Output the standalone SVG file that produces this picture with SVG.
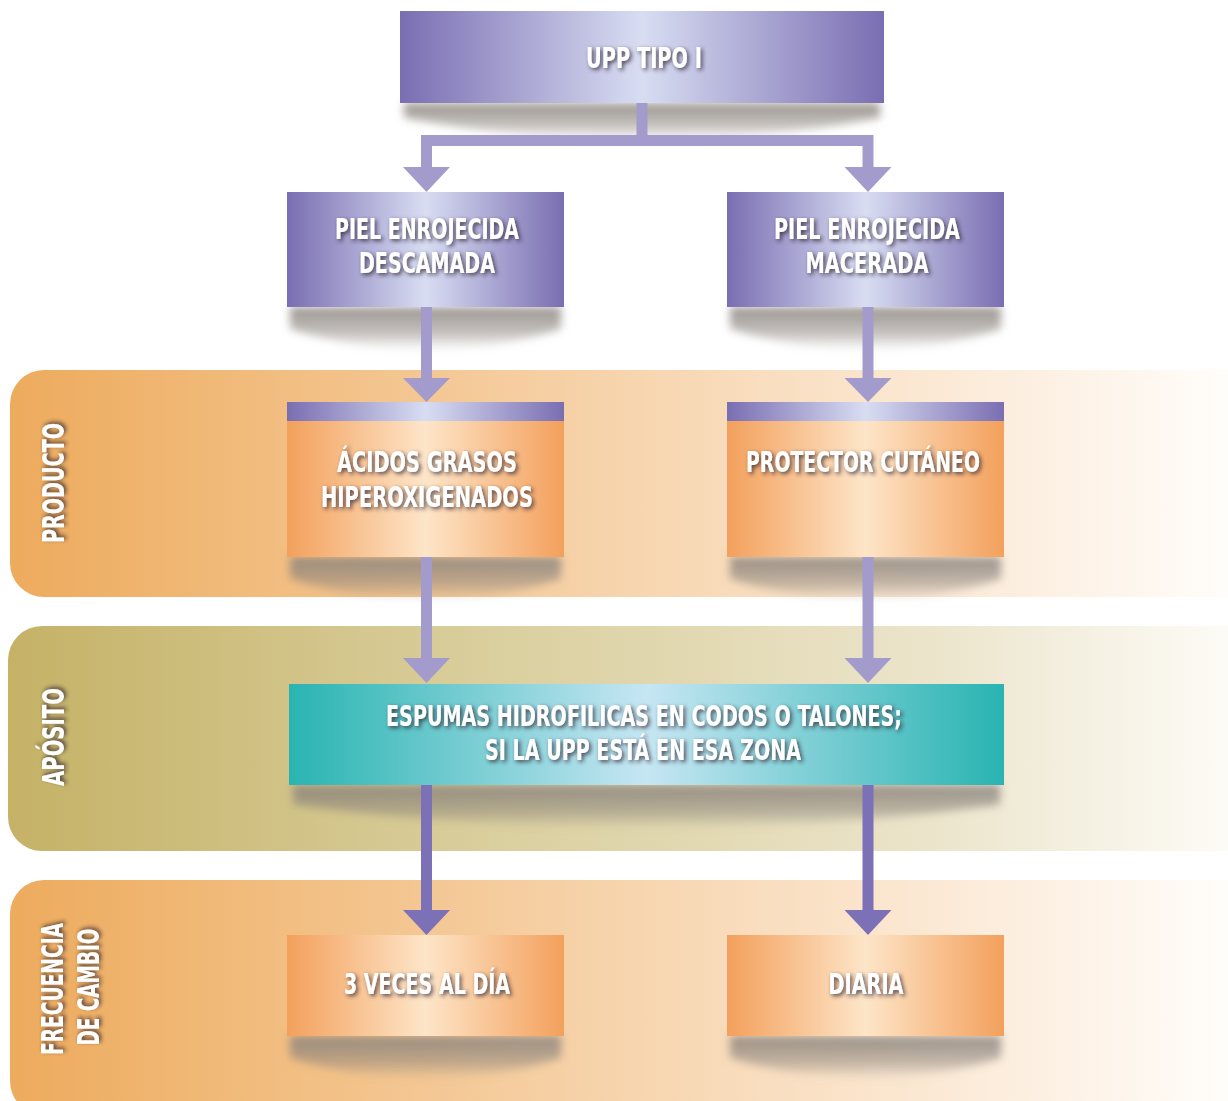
<svg xmlns="http://www.w3.org/2000/svg" width="1228" height="1101" viewBox="0 0 1228 1101">
<defs>
<linearGradient id="gPurple" x1="0" y1="0" x2="1" y2="0">
<stop offset="0" stop-color="#7a6eb2"/><stop offset="0.5" stop-color="#d8ddf2"/><stop offset="1" stop-color="#7a6eb2"/>
</linearGradient>
<linearGradient id="gOrange" x1="0" y1="0" x2="1" y2="0">
<stop offset="0" stop-color="#f3a05c"/><stop offset="0.5" stop-color="#fde5c8"/><stop offset="1" stop-color="#f3a05c"/>
</linearGradient>
<linearGradient id="gTeal" x1="0" y1="0" x2="1" y2="0">
<stop offset="0" stop-color="#29b4b2"/><stop offset="0.5" stop-color="#c6e6f3"/><stop offset="1" stop-color="#29b4b2"/>
</linearGradient>
<linearGradient id="gBandO" gradientUnits="userSpaceOnUse" x1="10" y1="0" x2="1228" y2="0">
<stop offset="0" stop-color="#edab5d"/><stop offset="0.4" stop-color="#f5cc9d"/><stop offset="0.75" stop-color="#fbe8d3"/><stop offset="1" stop-color="#fffdfa"/>
</linearGradient>
<linearGradient id="gBandY" gradientUnits="userSpaceOnUse" x1="8" y1="0" x2="1228" y2="0">
<stop offset="0" stop-color="#c5b267"/><stop offset="0.4" stop-color="#dacf9e"/><stop offset="0.75" stop-color="#ebe4ca"/><stop offset="1" stop-color="#fdfbf6"/>
</linearGradient>
<linearGradient id="gShadow" x1="0" y1="0" x2="0" y2="1">
<stop offset="0" stop-color="#8a837c" stop-opacity="0.85"/><stop offset="0.6" stop-color="#8a837c" stop-opacity="0.5"/><stop offset="1" stop-color="#8a837c" stop-opacity="0"/>
</linearGradient>
<filter id="blur" x="-10%" y="-50%" width="120%" height="200%"><feGaussianBlur stdDeviation="4"/></filter>
<filter id="ts" x="-10%" y="-30%" width="120%" height="160%"><feDropShadow dx="2" dy="2" stdDeviation="2" flood-color="#2a2030" flood-opacity="0.8"/></filter>
<path id="shadowL" d="M3,0 H274 V22 Q138,64 3,22 Z"/>
</defs>
<style>
text{font-family:"Liberation Sans Narrow","DejaVu Sans Condensed","Liberation Sans",sans-serif;font-weight:bold;fill:#ffffff;text-anchor:middle;filter:url(#ts)}
.t{font-size:29px}
.lab{font-size:30px}
.sh{fill:url(#gShadow);filter:url(#blur)}
.c1{fill:#a39bcb}
.c2{fill:#7c71b6}
</style>
<g id="bands">
<rect x="10" y="370" width="1260" height="227" rx="34" fill="url(#gBandO)"/>
<rect x="8" y="626" width="1260" height="225" rx="34" fill="url(#gBandY)"/>
<rect x="10" y="880" width="1260" height="235" rx="34" fill="url(#gBandO)"/>
</g>
<g id="labels">
<text class="lab" transform="translate(64,483) rotate(-90)" textLength="120" lengthAdjust="spacingAndGlyphs">PRODUCTO</text>
<text class="lab" transform="translate(64,737) rotate(-90)" textLength="98" lengthAdjust="spacingAndGlyphs">APÓSITO</text>
<text class="lab" transform="translate(63,989) rotate(-90)" textLength="132" lengthAdjust="spacingAndGlyphs">FRECUENCIA</text>
<text class="lab" transform="translate(99,987) rotate(-90)" textLength="117" lengthAdjust="spacingAndGlyphs">DE CAMBIO</text>
</g>
<g id="shadows">
<path class="sh" d="M404,103 H880 V118 Q642,162 404,118 Z"/>
<use href="#shadowL" class="sh" x="287" y="307"/>
<use href="#shadowL" class="sh" x="727" y="307"/>
<use href="#shadowL" class="sh" x="287" y="557"/>
<use href="#shadowL" class="sh" x="727" y="557"/>
<path class="sh" d="M293,785 H1000 V805 Q646,852 293,805 Z"/>
<use href="#shadowL" class="sh" x="287" y="1036"/>
<use href="#shadowL" class="sh" x="727" y="1036"/>
</g>
<g id="connectors">
<rect class="c1" x="636.5" y="103" width="11" height="38"/>
<rect class="c1" x="421" y="135" width="452" height="11"/>
<rect class="c1" x="421" y="135" width="11" height="33"/>
<polygon class="c1" points="403,167 450,167 426.5,192"/>
<rect class="c1" x="862.5" y="135" width="11" height="33"/>
<polygon class="c1" points="844.5,167 891.5,167 868,192"/>
<rect class="c1" x="421" y="307" width="11" height="72"/>
<polygon class="c1" points="403,378 450,378 426.5,402"/>
<rect class="c1" x="862.5" y="307" width="11" height="72"/>
<polygon class="c1" points="844.5,378 891.5,378 868,402"/>
<rect class="c1" x="421" y="557" width="11" height="102"/>
<polygon class="c1" points="403,658 450,658 426.5,683"/>
<rect class="c1" x="862.5" y="557" width="11" height="102"/>
<polygon class="c1" points="844.5,658 891.5,658 868,683"/>
<rect class="c2" x="421" y="785" width="11" height="126"/>
<polygon class="c2" points="403,910 450,910 426.5,935"/>
<rect class="c2" x="862.5" y="785" width="11" height="126"/>
<polygon class="c2" points="844.5,910 891.5,910 868,935"/>
</g>
<g id="n-upp">
<rect x="400" y="11" width="484" height="92" fill="url(#gPurple)"/>
<text class="t" x="644" y="68" font-size="30" textLength="116" lengthAdjust="spacingAndGlyphs">UPP TIPO I</text>
</g>
<g id="n-descamada">
<rect x="287" y="192" width="277" height="115" fill="url(#gPurple)"/>
<text class="t" x="427" y="239" textLength="184" lengthAdjust="spacingAndGlyphs">PIEL ENROJECIDA</text>
<text class="t" x="427" y="273" textLength="136" lengthAdjust="spacingAndGlyphs">DESCAMADA</text>
</g>
<g id="n-macerada">
<rect x="727" y="192" width="277" height="115" fill="url(#gPurple)"/>
<text class="t" x="867" y="239" textLength="186" lengthAdjust="spacingAndGlyphs">PIEL ENROJECIDA</text>
<text class="t" x="867" y="273" textLength="123" lengthAdjust="spacingAndGlyphs">MACERADA</text>
</g>
<g id="n-acidos">
<rect x="287" y="421" width="277" height="136" fill="url(#gOrange)"/>
<rect x="287" y="402" width="277" height="19" fill="url(#gPurple)"/>
<text class="t" x="427" y="472" textLength="180" lengthAdjust="spacingAndGlyphs">ÁCIDOS GRASOS</text>
<text class="t" x="427" y="507" textLength="212" lengthAdjust="spacingAndGlyphs">HIPEROXIGENADOS</text>
</g>
<g id="n-protector">
<rect x="727" y="421" width="277" height="136" fill="url(#gOrange)"/>
<rect x="727" y="402" width="277" height="19" fill="url(#gPurple)"/>
<text class="t" x="863" y="472" textLength="234" lengthAdjust="spacingAndGlyphs">PROTECTOR CUTÁNEO</text>
</g>
<g id="n-espumas">
<rect x="289" y="684" width="715" height="101" fill="url(#gTeal)"/>
<text class="t" x="644" y="726" textLength="516" lengthAdjust="spacingAndGlyphs">ESPUMAS HIDROFILICAS EN CODOS O TALONES;</text>
<text class="t" x="643" y="760" textLength="316" lengthAdjust="spacingAndGlyphs">SI LA UPP ESTÁ EN ESA ZONA</text>
</g>
<g id="n-3veces">
<rect x="287" y="935" width="277" height="101" fill="url(#gOrange)"/>
<text class="t" x="427" y="994" textLength="166" lengthAdjust="spacingAndGlyphs">3 VECES AL DÍA</text>
</g>
<g id="n-diaria">
<rect x="727" y="935" width="277" height="101" fill="url(#gOrange)"/>
<text class="t" x="866" y="994" textLength="75" lengthAdjust="spacingAndGlyphs">DIARIA</text>
</g>
</svg>
